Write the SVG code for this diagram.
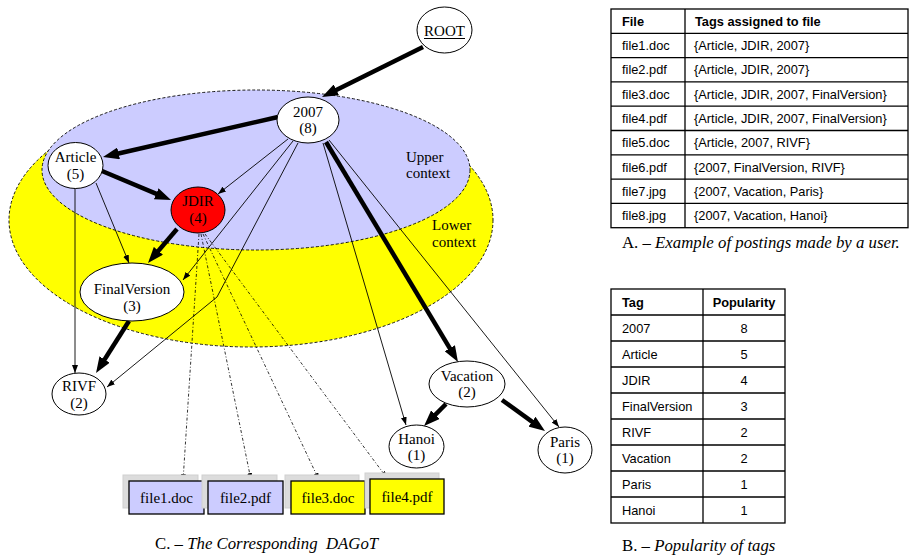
<svg xmlns="http://www.w3.org/2000/svg" width="914" height="558" viewBox="0 0 914 558">
<style>
.ctx{stroke:#000;stroke-width:0.9;stroke-dasharray:3,2}
.node{fill:#fff;stroke:#000;stroke-width:1}
.nt{font-family:"Liberation Serif","Times New Roman",serif;font-size:15px;fill:#000;text-anchor:middle}
.lbl{font-family:"Liberation Serif","Times New Roman",serif;font-size:15px;fill:#000}
.thick{fill:none;stroke:#000;stroke-width:4.5;marker-end:url(#ah)}
.thin{fill:none;stroke:#000;stroke-width:0.9;marker-end:url(#as)}
.dash{fill:none;stroke:#000;stroke-width:0.8;stroke-dasharray:3,2,1,2;marker-end:url(#ad)}
.shadow{fill:#dcdcdc;stroke:#cfcfcf;stroke-width:1}
.fbox{stroke:#000;stroke-width:1.3}
.tb{fill:none;stroke:#000;stroke-width:1.3}
.tt{font-family:"Liberation Sans",Arial,sans-serif;font-size:12.8px;fill:#000}
.th{font-family:"Liberation Sans",Arial,sans-serif;font-size:12.8px;font-weight:bold;fill:#000}
.cap{font-family:"Liberation Serif","Times New Roman",serif;font-size:16.8px;fill:#000}
</style>
<defs>
<marker id="ah" markerUnits="userSpaceOnUse" viewBox="0 0 16 12" markerWidth="16" markerHeight="12" refX="8" refY="6" orient="auto">
<path d="M0,0 L16,6 L0,12 z" fill="#000"/>
</marker>
<marker id="as" markerUnits="userSpaceOnUse" viewBox="0 0 8 6" markerWidth="8" markerHeight="6" refX="8" refY="3" orient="auto">
<path d="M0,0 L8,3 L0,6 z" fill="#000"/>
</marker>
<marker id="ad" markerUnits="userSpaceOnUse" viewBox="0 0 7 5" markerWidth="7" markerHeight="5" refX="7" refY="2.5" orient="auto">
<path d="M0,0 L7,2.5 L0,5 z" fill="#000"/>
</marker>
</defs>

<g id="contexts">
<ellipse cx="251" cy="220" rx="242" ry="127" fill="#ffff00" class="ctx"/>
<ellipse cx="256" cy="170" rx="214" ry="80" fill="#ccccff" class="ctx"/>
<text class="lbl" x="406" y="162">Upper</text>
<text class="lbl" x="406" y="178">context</text>
<text class="lbl" x="432" y="230">Lower</text>
<text class="lbl" x="432" y="247">context</text>
</g>

<g id="connectors">
<path class="thick" d="M423,47 L329.2,93.4"/>
<path class="thick" d="M278,117 L110.8,155.2"/>
<path class="thick" d="M102,171 L163.6,196.9"/>
<path class="thick" d="M177,229 L153.2,256.9"/>
<path class="thick" d="M129,321 L100.3,366.3"/>
<path class="thick" d="M326,142 L453.9,355.1"/>
<path class="thick" d="M446,404 L429.7,420.3"/>
<path class="thick" d="M502,400 L538.5,426.3"/>
<path class="thin" d="M75,188 L75,373"/>
<path class="thin" d="M96,183 L129,263"/>
<path class="thin" d="M288,139 L218,194"/>
<path class="thin" d="M293,141 L183,280"/>
<path class="thin" d="M298,143 L217,297 L107,387"/>
<path class="thin" d="M323,143 L406,425"/>
<path class="thin" d="M329,140 L559,427"/>
<path class="dash" d="M199,234 L183,481"/>
<path class="dash" d="M201,234 L251,480"/>
<path class="dash" d="M203,234 L319,480"/>
<path class="dash" d="M205,234 L387,478"/>
</g>

<g id="n-root">
<ellipse class="node" cx="444.5" cy="30" rx="27.5" ry="23"/>
<text class="nt" x="444.5" y="36">ROOT</text>
<line x1="424" y1="38.5" x2="465" y2="38.5" stroke="#000" stroke-width="1"/>
</g>
<g id="n-2007">
<ellipse class="node" cx="308" cy="120" rx="31" ry="23"/>
<text class="nt" x="308" y="117">2007</text>
<text class="nt" x="308" y="133">(8)</text>
</g>
<g id="n-article">
<ellipse class="node" cx="75.5" cy="165.5" rx="27.5" ry="23"/>
<text class="nt" x="75.5" y="162">Article</text>
<text class="nt" x="75.5" y="179">(5)</text>
</g>
<g id="n-jdir">
<ellipse cx="198" cy="210" rx="27" ry="23" fill="#ff0000" stroke="#000" stroke-width="1"/>
<text class="nt" x="198" y="206">JDIR</text>
<text class="nt" x="198" y="223">(4)</text>
</g>
<g id="n-finalversion">
<ellipse class="node" cx="132" cy="292" rx="52" ry="29"/>
<text class="nt" x="132" y="294">FinalVersion</text>
<text class="nt" x="132" y="311">(3)</text>
</g>
<g id="n-rivf">
<ellipse class="node" cx="79" cy="394" rx="27" ry="21"/>
<text class="nt" x="79" y="391">RIVF</text>
<text class="nt" x="79" y="408">(2)</text>
</g>
<g id="n-vacation">
<ellipse class="node" cx="467" cy="384" rx="38" ry="23"/>
<text class="nt" x="467" y="381">Vacation</text>
<text class="nt" x="467" y="397">(2)</text>
</g>
<g id="n-hanoi">
<ellipse class="node" cx="416.5" cy="446.5" rx="27.5" ry="21.5"/>
<text class="nt" x="416.5" y="444">Hanoi</text>
<text class="nt" x="416.5" y="460">(1)</text>
</g>
<g id="n-paris">
<ellipse class="node" cx="565" cy="450" rx="27" ry="23"/>
<text class="nt" x="565" y="447">Paris</text>
<text class="nt" x="565" y="463">(1)</text>
</g>

<g id="f-file1">
<rect class="shadow" x="123" y="475" width="75" height="33"/>
<rect class="fbox" x="129" y="481" width="75" height="33" fill="#ccccff"/>
<text class="nt" x="166.5" y="503">file1.doc</text>
</g>
<g id="f-file2">
<rect class="shadow" x="202" y="475" width="75" height="33"/>
<rect class="fbox" x="208" y="481" width="75" height="33" fill="#ccccff"/>
<text class="nt" x="245.5" y="503">file2.pdf</text>
</g>
<g id="f-file3">
<rect class="shadow" x="285" y="475" width="74" height="33"/>
<rect class="fbox" x="291" y="481" width="74" height="33" fill="#ffff00"/>
<text class="nt" x="328" y="503">file3.doc</text>
</g>
<g id="f-file4">
<rect class="shadow" x="365" y="473" width="74" height="35"/>
<rect class="fbox" x="370" y="479" width="74" height="35" fill="#ffff00"/>
<text class="nt" x="407" y="502">file4.pdf</text>
</g>

<text class="cap" x="155" y="549" xml:space="preserve">C. – <tspan font-style="italic">The Corresponding  DAGoT</tspan></text>

<g id="table-a">
<rect class="tb" x="611" y="9" width="297" height="218.7"/>
<line class="tb" x1="685" y1="9" x2="685" y2="227.7"/>
<line class="tb" x1="611" y1="33.3" x2="908" y2="33.3"/>
<line class="tb" x1="611" y1="57.6" x2="908" y2="57.6"/>
<line class="tb" x1="611" y1="81.9" x2="908" y2="81.9"/>
<line class="tb" x1="611" y1="106.2" x2="908" y2="106.2"/>
<line class="tb" x1="611" y1="130.5" x2="908" y2="130.5"/>
<line class="tb" x1="611" y1="154.8" x2="908" y2="154.8"/>
<line class="tb" x1="611" y1="179.1" x2="908" y2="179.1"/>
<line class="tb" x1="611" y1="203.4" x2="908" y2="203.4"/>
<text class="th" x="622" y="25.6">File</text>
<text class="th" x="695" y="25.6">Tags assigned to file</text>
<text class="tt" x="622" y="50">file1.doc</text><text class="tt" x="694" y="50">{Article, JDIR, 2007}</text>
<text class="tt" x="622" y="74.3">file2.pdf</text><text class="tt" x="694" y="74.3">{Article, JDIR, 2007}</text>
<text class="tt" x="622" y="98.6">file3.doc</text><text class="tt" x="694" y="98.6">{Article, JDIR, 2007, FinalVersion}</text>
<text class="tt" x="622" y="122.9">file4.pdf</text><text class="tt" x="694" y="122.9">{Article, JDIR, 2007, FinalVersion}</text>
<text class="tt" x="622" y="147.2">file5.doc</text><text class="tt" x="694" y="147.2">{Article, 2007, RIVF}</text>
<text class="tt" x="622" y="171.5">file6.pdf</text><text class="tt" x="694" y="171.5">{2007, FinalVersion, RIVF}</text>
<text class="tt" x="622" y="195.8">file7.jpg</text><text class="tt" x="694" y="195.8">{2007, Vacation, Paris}</text>
<text class="tt" x="622" y="220.1">file8.jpg</text><text class="tt" x="694" y="220.1">{2007, Vacation, Hanoi}</text>
</g>
<text class="cap" x="622" y="248">A. – <tspan font-style="italic">Example of postings made by a user.</tspan></text>

<g id="table-b">
<rect class="tb" x="611" y="289" width="174" height="234"/>
<line class="tb" x1="703" y1="289" x2="703" y2="523"/>
<line class="tb" x1="611" y1="315" x2="785" y2="315"/>
<line class="tb" x1="611" y1="341" x2="785" y2="341"/>
<line class="tb" x1="611" y1="367" x2="785" y2="367"/>
<line class="tb" x1="611" y1="393" x2="785" y2="393"/>
<line class="tb" x1="611" y1="419" x2="785" y2="419"/>
<line class="tb" x1="611" y1="445" x2="785" y2="445"/>
<line class="tb" x1="611" y1="471" x2="785" y2="471"/>
<line class="tb" x1="611" y1="497" x2="785" y2="497"/>
<text class="th" x="622" y="306.5">Tag</text>
<text class="th" x="744" y="306.5" text-anchor="middle">Popularity</text>
<text class="tt" x="622" y="332.5">2007</text><text class="tt" x="744" y="332.5" text-anchor="middle">8</text>
<text class="tt" x="622" y="358.5">Article</text><text class="tt" x="744" y="358.5" text-anchor="middle">5</text>
<text class="tt" x="622" y="384.5">JDIR</text><text class="tt" x="744" y="384.5" text-anchor="middle">4</text>
<text class="tt" x="622" y="410.5">FinalVersion</text><text class="tt" x="744" y="410.5" text-anchor="middle">3</text>
<text class="tt" x="622" y="436.5">RIVF</text><text class="tt" x="744" y="436.5" text-anchor="middle">2</text>
<text class="tt" x="622" y="462.5">Vacation</text><text class="tt" x="744" y="462.5" text-anchor="middle">2</text>
<text class="tt" x="622" y="488.5">Paris</text><text class="tt" x="744" y="488.5" text-anchor="middle">1</text>
<text class="tt" x="622" y="514.5">Hanoi</text><text class="tt" x="744" y="514.5" text-anchor="middle">1</text>
</g>
<text class="cap" x="622" y="551">B. – <tspan font-style="italic">Popularity of tags</tspan></text>
</svg>
